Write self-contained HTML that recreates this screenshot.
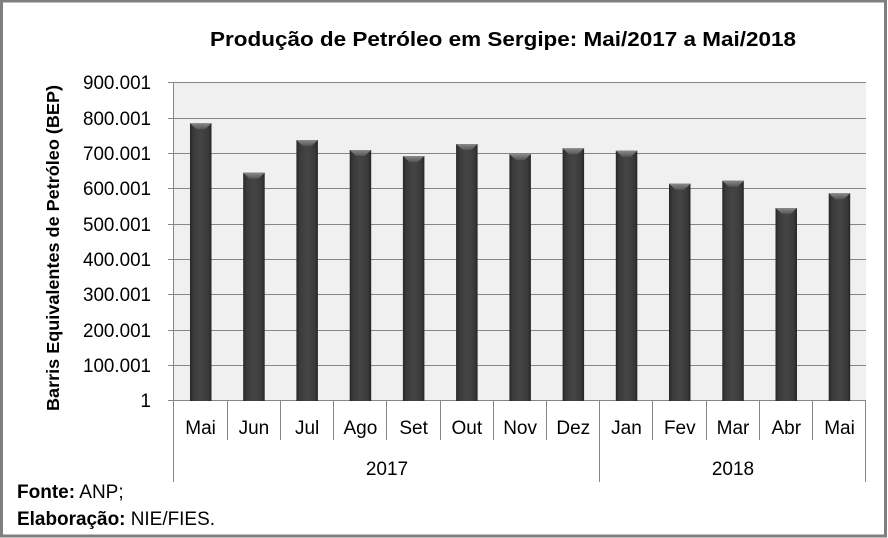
<!DOCTYPE html>
<html><head><meta charset="utf-8"><style>
html,body{margin:0;padding:0;background:#fff;}
svg{display:block;}
text{font-family:"Liberation Sans",Arial,sans-serif;fill:#000;}
</style></head><body>
<svg width="888" height="538" viewBox="0 0 888 538" xmlns="http://www.w3.org/2000/svg">
<defs>
<linearGradient id="bar" x1="0" x2="1" y1="0" y2="0">
<stop offset="0" stop-color="#262626"/>
<stop offset="0.15" stop-color="#3a3a3a"/>
<stop offset="0.5" stop-color="#454545"/>
<stop offset="0.85" stop-color="#3a3a3a"/>
<stop offset="1" stop-color="#262626"/>
</linearGradient>
<linearGradient id="cap" x1="0" x2="0" y1="0" y2="1">
<stop offset="0" stop-color="#8a8a8a"/>
<stop offset="1" stop-color="#555"/>
</linearGradient>
</defs>
<rect x="0" y="0" width="888" height="538" fill="#fff"/>
<rect x="1.5" y="1" width="884" height="535" fill="none" stroke="#7f7f7f" stroke-width="3"/>
<text x="503" y="46" text-anchor="middle" font-size="20" font-weight="bold" textLength="586" lengthAdjust="spacingAndGlyphs">Produção de Petróleo em Sergipe: Mai/2017 a Mai/2018</text>
<rect x="174" y="82.5" width="692" height="318.5" fill="#f0f0f0"/>
<g stroke="#868686" stroke-width="1">
<line x1="168" x2="866" y1="82.5" y2="82.5"/>
<line x1="168" x2="866" y1="118.5" y2="118.5"/>
<line x1="168" x2="866" y1="153.5" y2="153.5"/>
<line x1="168" x2="866" y1="188.5" y2="188.5"/>
<line x1="168" x2="866" y1="224.5" y2="224.5"/>
<line x1="168" x2="866" y1="259.5" y2="259.5"/>
<line x1="168" x2="866" y1="294.5" y2="294.5"/>
<line x1="168" x2="866" y1="330.5" y2="330.5"/>
<line x1="168" x2="866" y1="365.5" y2="365.5"/>
<line x1="168" x2="866" y1="400.5" y2="400.5"/>
<line x1="173.5" x2="173.5" y1="82" y2="482"/>
<line x1="599.5" x2="599.5" y1="401" y2="482"/>
<line x1="865.5" x2="865.5" y1="401" y2="482"/>
<line x1="227.5" x2="227.5" y1="401" y2="440"/>
<line x1="280.5" x2="280.5" y1="401" y2="440"/>
<line x1="333.5" x2="333.5" y1="401" y2="440"/>
<line x1="386.5" x2="386.5" y1="401" y2="440"/>
<line x1="440.5" x2="440.5" y1="401" y2="440"/>
<line x1="493.5" x2="493.5" y1="401" y2="440"/>
<line x1="546.5" x2="546.5" y1="401" y2="440"/>
<line x1="652.5" x2="652.5" y1="401" y2="440"/>
<line x1="706.5" x2="706.5" y1="401" y2="440"/>
<line x1="759.5" x2="759.5" y1="401" y2="440"/>
<line x1="812.5" x2="812.5" y1="401" y2="440"/>
</g>
<g font-size="19" text-anchor="end">
<text x="151" y="89" textLength="68" lengthAdjust="spacingAndGlyphs">900.001</text>
<text x="151" y="125" textLength="68" lengthAdjust="spacingAndGlyphs">800.001</text>
<text x="151" y="160" textLength="68" lengthAdjust="spacingAndGlyphs">700.001</text>
<text x="151" y="195" textLength="68" lengthAdjust="spacingAndGlyphs">600.001</text>
<text x="151" y="231" textLength="68" lengthAdjust="spacingAndGlyphs">500.001</text>
<text x="151" y="266" textLength="68" lengthAdjust="spacingAndGlyphs">400.001</text>
<text x="151" y="301" textLength="68" lengthAdjust="spacingAndGlyphs">300.001</text>
<text x="151" y="337" textLength="68" lengthAdjust="spacingAndGlyphs">200.001</text>
<text x="151" y="372" textLength="68" lengthAdjust="spacingAndGlyphs">100.001</text>
<text x="151" y="407">1</text>
</g>
<text transform="translate(59,248) rotate(-90)" text-anchor="middle" font-size="17.5" font-weight="bold" textLength="326" lengthAdjust="spacingAndGlyphs">Barris Equivalentes de Petróleo (BEP)</text>
<g>
<rect x="190" y="123.3" width="21.5" height="277.7" fill="url(#bar)"/><polygon points="190,123.3 211.5,123.3 205,129.3 196.5,129.3" fill="url(#cap)"/>
<rect x="243.2" y="172.7" width="21.5" height="228.3" fill="url(#bar)"/><polygon points="243.2,172.7 264.7,172.7 258.2,178.7 249.7,178.7" fill="url(#cap)"/>
<rect x="296.4" y="140" width="21.5" height="261" fill="url(#bar)"/><polygon points="296.4,140 317.9,140 311.4,146 302.9,146" fill="url(#cap)"/>
<rect x="349.7" y="150" width="21.5" height="251" fill="url(#bar)"/><polygon points="349.7,150 371.2,150 364.7,156 356.2,156" fill="url(#cap)"/>
<rect x="402.9" y="156" width="21.5" height="245" fill="url(#bar)"/><polygon points="402.9,156 424.4,156 417.9,162 409.4,162" fill="url(#cap)"/>
<rect x="456.1" y="144" width="21.5" height="257" fill="url(#bar)"/><polygon points="456.1,144 477.6,144 471.1,150 462.6,150" fill="url(#cap)"/>
<rect x="509.4" y="154" width="21.5" height="247" fill="url(#bar)"/><polygon points="509.4,154 530.9,154 524.4,160 515.9,160" fill="url(#cap)"/>
<rect x="562.6" y="148.3" width="21.5" height="252.7" fill="url(#bar)"/><polygon points="562.6,148.3 584.1,148.3 577.6,154.3 569.1,154.3" fill="url(#cap)"/>
<rect x="615.8" y="150.7" width="21.5" height="250.3" fill="url(#bar)"/><polygon points="615.8,150.7 637.3,150.7 630.8,156.7 622.3,156.7" fill="url(#cap)"/>
<rect x="669" y="183.7" width="21.5" height="217.3" fill="url(#bar)"/><polygon points="669,183.7 690.5,183.7 684,189.7 675.5,189.7" fill="url(#cap)"/>
<rect x="722.3" y="180.7" width="21.5" height="220.3" fill="url(#bar)"/><polygon points="722.3,180.7 743.8,180.7 737.3,186.7 728.8,186.7" fill="url(#cap)"/>
<rect x="775.5" y="208" width="21.5" height="193" fill="url(#bar)"/><polygon points="775.5,208 797,208 790.5,214 782,214" fill="url(#cap)"/>
<rect x="828.7" y="193.3" width="21.5" height="207.7" fill="url(#bar)"/><polygon points="828.7,193.3 850.2,193.3 843.7,199.3 835.2,199.3" fill="url(#cap)"/>
</g>
<g font-size="19" text-anchor="middle">
<text x="200.6" y="434">Mai</text>
<text x="253.9" y="434">Jun</text>
<text x="307.1" y="434">Jul</text>
<text x="360.4" y="434">Ago</text>
<text x="413.6" y="434">Set</text>
<text x="466.8" y="434">Out</text>
<text x="520.1" y="434">Nov</text>
<text x="573.3" y="434">Dez</text>
<text x="626.5" y="434">Jan</text>
<text x="679.8" y="434">Fev</text>
<text x="733" y="434">Mar</text>
<text x="786.3" y="434">Abr</text>
<text x="839.5" y="434">Mai</text>
<text x="387" y="475">2017</text>
<text x="733" y="475">2018</text>
</g>
<text x="17" y="498" font-size="19"><tspan font-weight="bold">Fonte:</tspan> ANP;</text>
<text x="17" y="525" font-size="19" textLength="198" lengthAdjust="spacingAndGlyphs"><tspan font-weight="bold">Elaboração:</tspan> NIE/FIES.</text>
</svg>
</body></html>
